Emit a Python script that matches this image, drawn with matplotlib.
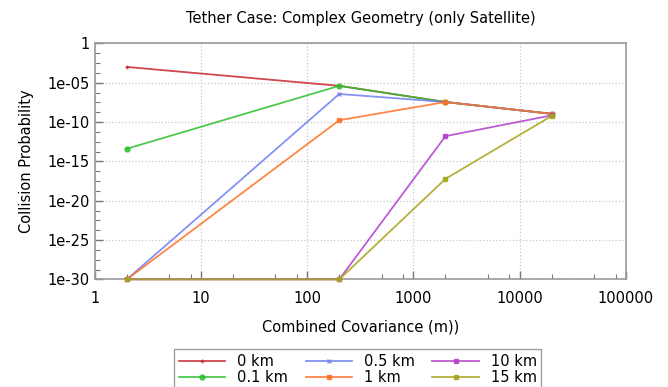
import numpy as np
import matplotlib
matplotlib.use("Agg")
import matplotlib.pyplot as plt
from matplotlib.ticker import FixedLocator, NullFormatter

# datos
covarianza = [2, 200, 2000, 20000]
series = ["0 km", "0.1 km", "0.5 km", "1 km", "10 km", "15 km"]
p_0km = [1e-3, 4e-6, 3.5e-8, 1.1e-9]
p_01km = [4e-14, 4e-6, 3.5e-8, 1.1e-9]
p_05km = [1e-30, 3.7e-7, 3.5e-8, 1.1e-9]
p_1km = [1e-30, 1.7e-10, 3.5e-8, 1.1e-9]
p_10km = [1e-30, 1e-30, 1.6e-12, 7e-10]
p_15km = [1e-30, 1e-30, 6e-18, 6e-10]

valores = [p_0km, p_01km, p_05km, p_1km, p_10km, p_15km]
colores = ["#c8282d", "#2ec12e", "#6e7ff0", "#ff7128", "#b23fc8", "#a8a418"]
marcadores = ["+", "o", "x", "s", "s", "s"]

plt.rcParams["font.family"] = "DejaVu Sans"

fig = plt.figure(figsize=(6.68, 3.87), dpi=100)
ax = fig.add_axes([0.142, 0.278, 0.795, 0.61])

for nombre, vals, c, m in zip(series, valores, colores, marcadores):
    ax.plot(covarianza, vals, color=c, marker=m, markersize=3.5, lw=1.3,
            alpha=0.85, markeredgewidth=1.0, label=nombre, zorder=3, clip_on=False)

ax.set_xscale("log")
ax.set_yscale("log")
ax.set_xlim(1, 1e5)
ax.set_ylim(1e-30, 1)

ax.set_xticks([1, 10, 100, 1000, 10000, 100000])
ax.set_xticklabels(["1", "10", "100", "1000", "10000", "100000"])
ax.xaxis.set_minor_locator(FixedLocator([d * k for d in [1, 10, 100, 1000, 10000] for k in (2, 5, 8)]))
ax.xaxis.set_minor_formatter(NullFormatter())

yt = [10.0 ** -e for e in range(0, 31, 5)]
ax.set_yticks(yt)
ax.set_yticklabels(["1"] + ["1e-%02d" % e for e in range(5, 31, 5)])
ax.yaxis.set_minor_locator(FixedLocator([10.0 ** -(e + f) for e in range(0, 30, 5) for f in (1.25, 2.5, 3.75)]))
ax.yaxis.set_minor_formatter(NullFormatter())

ax.tick_params(which="major", direction="in", length=6, width=1, color="#777777", labelsize=10.5)
ax.tick_params(which="minor", direction="in", length=3.5, width=0.8, color="#777777")
ax.tick_params(axis="x", pad=8)
ax.grid(True, which="major", linestyle=":", color="#c8c8c8", lw=0.9)
for s in ax.spines.values():
    s.set_color("#999999")
    s.set_linewidth(1.2)

ax.set_title("Tether Case: Complex Geometry (only Satellite)", fontsize=10.5, pad=15)
ax.set_xlabel("Combined Covariance (m))", fontsize=10.5, labelpad=10)
ax.set_ylabel("Collision Probability", fontsize=10.5, labelpad=10)

leg = ax.legend(ncol=3, loc="upper center", bbox_to_anchor=(0.495, -0.265),
                fontsize=10.5, frameon=True, fancybox=False, handlelength=3.2,
                columnspacing=1.2, handletextpad=0.8, labelspacing=0.1,
                borderpad=0.3)
leg.get_frame().set_edgecolor("#888888")
leg.get_frame().set_linewidth(1.0)

fig.savefig("out.png", dpi=100)
